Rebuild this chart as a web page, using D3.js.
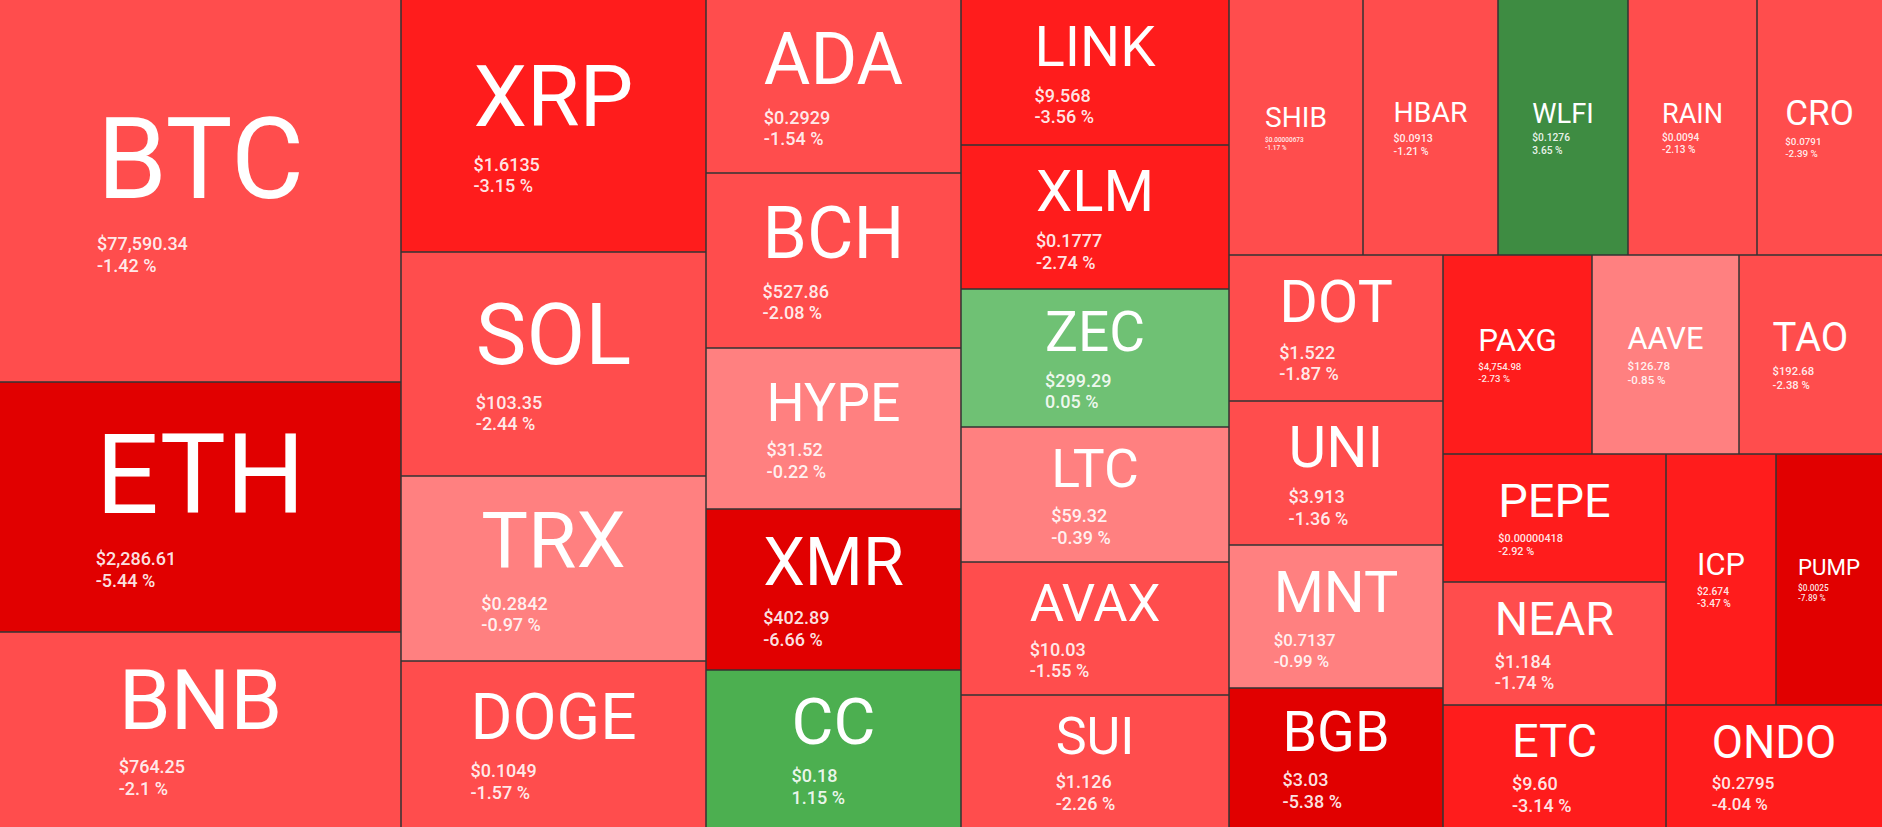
<!DOCTYPE html>
<html><head><meta charset="utf-8">
<script src="https://cdn.jsdelivr.net/npm/d3@7"></script>
<style>
html,body{margin:0;padding:0;background:#fff;overflow:hidden}
svg{display:block}
text{font-family:Roboto,"Noto Sans",sans-serif}
</style></head><body>
<svg id="chart" width="1882" height="827"></svg>
<script>
// ---- data ----
const symbols = ["BTC","ETH","BNB","XRP","SOL","TRX","DOGE","ADA","BCH","HYPE","XMR","CC",
  "LINK","XLM","ZEC","LTC","AVAX","SUI","SHIB","HBAR","WLFI","RAIN","CRO","DOT","UNI","MNT","BGB",
  "PAXG","AAVE","TAO","PEPE","NEAR","ETC","ICP","PUMP","ONDO"];
const prices = ["77,590.34","2,286.61","764.25","1.6135","103.35","0.2842","0.1049","0.2929","527.86",
  "31.52","402.89","0.18","9.568","0.1777","299.29","59.32","10.03","1.126","0.00000673","0.0913",
  "0.1276","0.0094","0.0791","1.522","3.913","0.7137","3.03","4,754.98","126.78","192.68",
  "0.00000418","1.184","9.60","2.674","0.0025","0.2795"];
const changes = [-1.42,-5.44,-2.1,-3.15,-2.44,-0.97,-1.57,-1.54,-2.08,-0.22,-6.66,1.15,
  -3.56,-2.74,0.05,-0.39,-1.55,-2.26,-1.17,-1.21,3.65,-2.13,-2.39,-1.87,-1.36,-0.99,-5.38,
  -2.73,-0.85,-2.38,-2.92,-1.74,-3.14,-3.47,-7.89,-4.04];
// relative tile sizes (estimated from the tile areas)
const tileWeights = [153.18,100.25,78.20,76.86,68.32,56.43,50.63,44.12,44.63,41.06,41.06,40.04,
  38.86,38.59,36.98,36.18,35.64,35.38,34.17,34.43,33.15,32.90,31.88,31.24,30.82,30.60,29.75,
  29.65,29.25,28.46,28.54,27.43,27.21,27.61,26.61,26.35];
const changeBreaks = [-5, -2.5, -1, 0, 1, 2.5];
const changeColors = ["#e10000","#ff1c1c","#ff4d4d","#ff8080","#6fc174","#4caf50","#3e8c42"];

// ---- chart ----
const W = 1882, H = 827;
const svg = d3.select("#chart");
const data = symbols.map((s, i) => ({symbol: s, price: prices[i], change: changes[i], weight: tileWeights[i]}));
const root = d3.hierarchy({children: data}).sum(d => d.weight || 0);
d3.treemap().size([W, H]).tile(d3.treemapSquarify.ratio(1.65)).round(true)(root);
const color = d3.scaleThreshold().domain(changeBreaks).range(changeColors);
const leaves = root.leaves();

svg.append("g").selectAll("rect").data(leaves).join("rect")
  .attr("x", d => d.x0).attr("y", d => d.y0)
  .attr("width", d => d.x1 - d.x0).attr("height", d => d.y1 - d.y0)
  .attr("fill", d => color(d.data.change));

// separators (left / top edge of each tile)
svg.append("g").selectAll("path").data(leaves).join("path")
  .attr("d", d => {
    let p = "";
    if (d.x0 > 0) p += `M${d.x0},${d.y0}V${d.y1}`;
    if (d.y0 > 0) p += `M${d.x0},${d.y0}H${d.x1}`;
    return p || null;
  })
  .attr("fill", "none").attr("stroke", "#333").attr("stroke-width", 1.5);

const meas = svg.append("text").attr("font-size", 100).style("visibility", "hidden");
const emWidth = (str, wt) => { meas.attr("font-weight", wt || 400).text(str); return meas.node().getComputedTextLength() / 100; };

const labels = svg.append("g");
leaves.forEach(d => {
  const w = d.x1 - d.x0, h = d.y1 - d.y0;
  const cx = (d.x0 + d.x1) / 2, cy = (d.y0 + d.y1) / 2;
  const sym = d.data.symbol;
  const S = Math.min(0.84 * w / sym.length, 0.5 * h - 14);
  const priceStr = "$" + d.data.price;
  const P = Math.min(18, 0.29 * w / emWidth(priceStr, 500));
  const x = cx - emWidth(sym) * S / 2;
  const yS = cy + 0.233 * S - 1.05 * P - 0.6;
  const yP = yS + 0.3 * S + 1.04 * P;
  const yC = yP + 1.2 * P;
  const g = labels.append("g");
  g.append("text").attr("x", x).attr("y", yS).attr("font-size", S).attr("fill", "#fff").text(sym);
  g.append("text").attr("x", x).attr("y", yP).attr("font-size", P).attr("font-weight", 500)
    .attr("fill", "#fff").attr("fill-opacity", 0.9).text(priceStr);
  g.append("text").attr("x", x).attr("y", yC).attr("font-size", P).attr("font-weight", 500)
    .attr("fill", "#fff").attr("fill-opacity", 0.9).text(d.data.change + " %");
});
meas.remove();
</script>
</body></html>
